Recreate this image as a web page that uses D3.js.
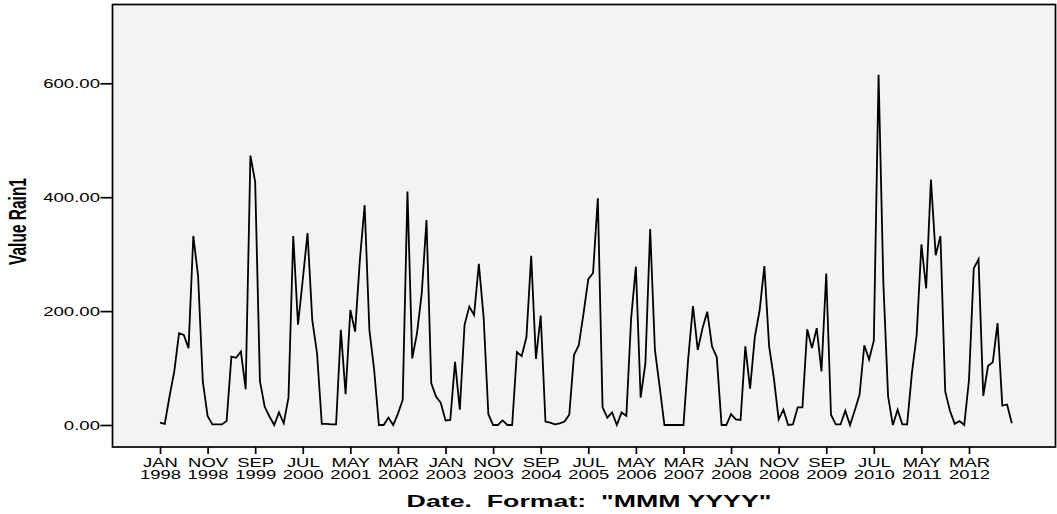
<!DOCTYPE html>
<html><head><meta charset="utf-8">
<script src="https://cdn.jsdelivr.net/npm/d3@7"></script>
<style>html,body{margin:0;padding:0;background:#fff}svg{display:block}</style>
</head><body>
<svg id="c" width="1057" height="514"></svg>
<script>
// Monthly rainfall, Jan 1998 .. Dec 2012
const startYear = 1998;
const values = [
  4, 2, 50, 94, 161, 158, 135, 332, 262, 76, 16, 1,
  1, 1, 7, 120, 118, 129, 63, 473, 427, 77, 32, 15,
  0, 22, 3, 48, 332, 176, 255, 337, 184, 126, 2, 2,
  1, 1, 167, 54, 202, 164, 290, 386, 167, 97, 0, 0,
  13, 0, 20, 44, 410, 117, 161, 231, 360, 73, 50, 39,
  8, 9, 111, 27, 176, 208, 193, 283, 190, 19, 0, 0,
  8, 0, 0, 128, 121, 154, 297, 116, 192, 6, 4, 1,
  3, 6, 18, 123, 140, 196, 256, 267, 398, 31, 13, 22,
  0, 22, 16, 187, 278, 48, 108, 344, 132, 67, 0, 0,
  0, 0, 0, 117, 209, 132, 170, 199, 138, 119, 0, 0,
  19, 10, 9, 138, 64, 155, 201, 279, 138, 82, 10, 27,
  0, 1, 31, 31, 168, 135, 170, 94, 266, 18, 1, 1,
  25, 0, 26, 53, 140, 115, 148, 615, 250, 50, 0, 27,
  1, 1, 91, 158, 317, 240, 431, 298, 332, 59, 25, 2,
  7, 0, 79, 275, 291, 51, 104, 110, 179, 34, 36, 3
];
const monthNames = ["JAN","FEB","MAR","APR","MAY","JUN","JUL","AUG","SEP","OCT","NOV","DEC"];
const xTickIndex = [0,10,20,30,40,50,60,70,80,90,100,110,120,130,140,150,160,170];
const yTicks = [0, 200, 400, 600];
const xTitle = 'Date.  Format:  "MMM YYYY"';
const yTitle = 'Value Rain1';

const svg = d3.select("#c");
const frame = {left: 112.5, right: 1055.5, top: 4.5, bottom: 447};
const SX = 1.5; // horizontal stretch of text

const x = d3.scaleLinear().domain([0, 170]).range([160, 969]);
const y = d3.scaleLinear().domain([0, 600]).range([425, 83.3]);

svg.append("rect")
  .attr("x", frame.left).attr("y", frame.top)
  .attr("width", frame.right - frame.left).attr("height", frame.bottom - frame.top)
  .attr("fill", "#f3f3f3").attr("stroke", "#000").attr("stroke-width", 1.7);

// line
const line = d3.line().x((d, i) => x(i)).y(d => y(d));
svg.append("path").datum(values)
  .attr("d", line).attr("fill", "none").attr("stroke", "#000")
  .attr("stroke-width", 1.8).attr("stroke-linejoin", "miter");

// y axis
const yAxis = svg.append("g").attr("transform", `translate(${frame.left},0)`)
  .call(d3.axisLeft(y).tickValues(yTicks).tickSize(12).tickPadding(0).tickFormat(d3.format(".2f")));
yAxis.select(".domain").remove();
yAxis.selectAll(".tick line").attr("stroke", "#000").attr("stroke-width", 1.7);
yAxis.selectAll(".tick text").each(function() {
  d3.select(this).attr("x", null).attr("dy", null)
   .attr("transform", `translate(-12.5,4.4) scale(1.55,1)`)
   .attr("font-family", "'Liberation Sans', Arial, sans-serif").attr("font-size", 12)
   .attr("fill", "#000").attr("text-anchor", "end");
});

// x axis
const xAxis = svg.append("g").attr("transform", `translate(0,${frame.bottom})`)
  .call(d3.axisBottom(x).tickValues(xTickIndex).tickSize(7).tickFormat(""));
xAxis.select(".domain").remove();
xAxis.selectAll(".tick line").attr("stroke", "#000").attr("stroke-width", 1.7);
xAxis.selectAll(".tick").each(function(i) {
  const g = d3.select(this);
  const m = monthNames[i % 12];
  const yr = startYear + Math.floor(i / 12);
  [[m, 20], [String(yr), 32]].forEach(([s, dy]) => {
    g.append("text").text(s)
      .attr("transform", `translate(0,${dy}) scale(${SX},1)`)
      .attr("text-anchor", "middle")
      .attr("font-family", "'Liberation Sans', Arial, sans-serif").attr("font-size", 12.3)
      .attr("fill", "#000");
  });
});

// x title
const xt = svg.append("text").text(xTitle)
  .attr("font-family", "'Liberation Sans', Arial, sans-serif").attr("font-weight", "bold")
  .attr("font-size", 16).attr("fill", "#000").attr("text-anchor", "middle")
  .attr("xml:space", "preserve").style("white-space", "pre");
const w = xt.node().getComputedTextLength();
const sxt = 365 / w;
xt.attr("transform", `translate(589,507) scale(${sxt},1)`);

// y title
svg.append("text").text(yTitle)
  .attr("font-family", "'Liberation Sans', Arial, sans-serif").attr("font-weight", "bold")
  .attr("font-size", 15.5).attr("fill", "#000").attr("text-anchor", "middle")
  .attr("transform", `translate(25.5,221.5) scale(1.5,1) rotate(-90)`);
</script>
</body></html>
